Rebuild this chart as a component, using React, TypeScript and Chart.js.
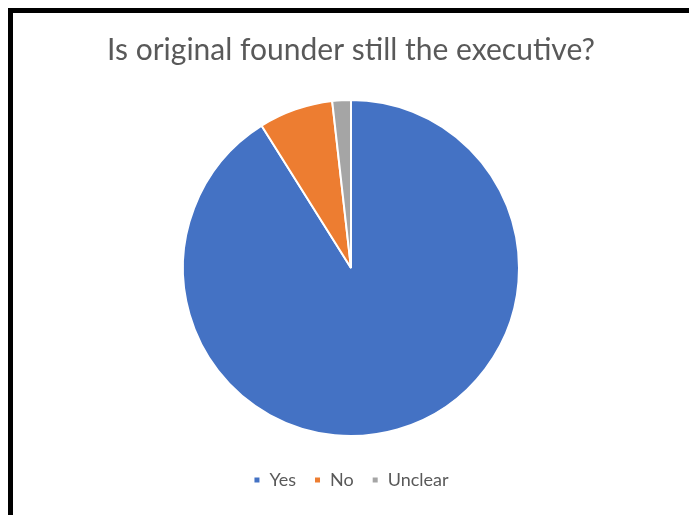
import React, { useEffect, useRef } from "react";
import { Chart, registerables } from "chart.js";

Chart.register(...registerables);

const categories = ["Yes", "No", "Unclear"];
const counts = [51, 4, 1];
const sliceColors = ["#4472C4", "#ED7D31", "#A5A5A5"];
const titleText = "Is original founder still the executive?";

export default function App() {
  const ref = useRef<HTMLCanvasElement | null>(null);

  useEffect(() => {
    if (!ref.current) return;
    const chart = new Chart(ref.current, {
      type: "pie",
      data: {
        labels: categories,
        datasets: [
          {
            data: counts,
            backgroundColor: sliceColors,
            borderColor: "#ffffff",
            borderWidth: 2,
            radius: 168,
          },
        ],
      },
      options: {
        animation: false,
        responsive: false,
        maintainAspectRatio: false,
        layout: { padding: { top: 0, bottom: 16, left: 0, right: 0 } },
        plugins: {
          title: {
            display: true,
            text: titleText,
            color: "#595959",
            font: { family: "Lato, 'Open Sans', sans-serif", size: 30, weight: "normal" },
            padding: { top: 19, bottom: 15 },
          },
          legend: {
            position: "bottom",
            labels: {
              color: "#595959",
              font: { family: "Lato, 'Open Sans', sans-serif", size: 18 },
              usePointStyle: true,
              pointStyle: "rect",
              boxWidth: 7,
              boxHeight: 7,
              padding: 18,
            },
          },
          tooltip: { enabled: false },
        },
      },
    });
    return () => chart.destroy();
  }, []);

  return (
    <div
      style={{
        position: "absolute",
        left: 8,
        top: 8,
        width: 681,
        height: 507,
        borderTop: "5px solid #000",
        borderLeft: "5px solid #000",
        background: "#fff",
        boxSizing: "border-box",
        overflow: "hidden",
      }}
    >
      <canvas ref={ref} width={676} height={502} style={{ display: "block" }} />
    </div>
  );
}
